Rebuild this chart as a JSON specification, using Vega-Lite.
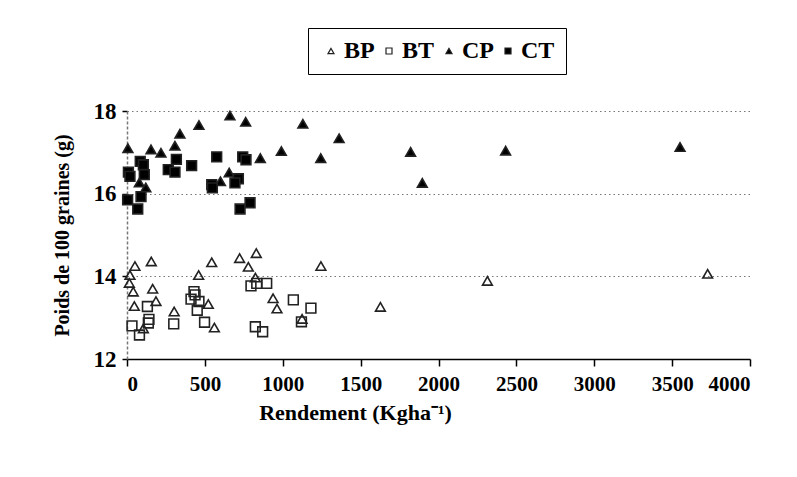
{
  "$schema": "https://vega.github.io/schema/vega-lite/v6.json",
  "width": 623,
  "height": 248,
  "autosize": "none",
  "padding": {"left": 127, "top": 111, "right": 47, "bottom": 118},
  "background": "white",
  "config": {
    "view": {"stroke": null},
    "font": "Liberation Serif",
    "legend": {
      "orient": "none", "direction": "horizontal",
      "legendX": 181, "legendY": -83,
      "strokeColor": "black", "fillColor": "white", "padding": 11,
      "labelFont": "Liberation Serif", "labelFontWeight": "bold", "labelFontSize": 24, "labelColor": "black",
      "symbolSize": 36, "symbolStrokeWidth": 1.2, "labelOffset": 1, "columnPadding": 2, "gridAlign": "none"
    }
  },
  "data": {
    "values": [
      {"s": "BP", "x": 51, "y": 14.25},
      {"s": "BP", "x": 156, "y": 14.36},
      {"s": "BP", "x": 19, "y": 14.03},
      {"s": "BP", "x": 15, "y": 13.84},
      {"s": "BP", "x": 40, "y": 13.63},
      {"s": "BP", "x": 165, "y": 13.7},
      {"s": "BP", "x": 186, "y": 13.4},
      {"s": "BP", "x": 47, "y": 13.28},
      {"s": "BP", "x": 105, "y": 12.74},
      {"s": "BP", "x": 303, "y": 13.15},
      {"s": "BP", "x": 460, "y": 14.03},
      {"s": "BP", "x": 544, "y": 14.34},
      {"s": "BP", "x": 522, "y": 13.33},
      {"s": "BP", "x": 561, "y": 12.76},
      {"s": "BP", "x": 723, "y": 14.44},
      {"s": "BP", "x": 779, "y": 14.23},
      {"s": "BP", "x": 830, "y": 14.56},
      {"s": "BP", "x": 824, "y": 13.97},
      {"s": "BP", "x": 938, "y": 13.47},
      {"s": "BP", "x": 963, "y": 13.22},
      {"s": "BP", "x": 1124, "y": 12.97},
      {"s": "BP", "x": 1245, "y": 14.25},
      {"s": "BP", "x": 1627, "y": 13.26},
      {"s": "BP", "x": 2314, "y": 13.89},
      {"s": "BP", "x": 3728, "y": 14.06},
      {"s": "BT", "x": 32, "y": 12.8},
      {"s": "BT", "x": 80, "y": 12.58},
      {"s": "BT", "x": 131, "y": 13.27},
      {"s": "BT", "x": 141, "y": 12.96},
      {"s": "BT", "x": 137, "y": 12.87},
      {"s": "BT", "x": 300, "y": 12.85},
      {"s": "BT", "x": 430, "y": 13.63},
      {"s": "BT", "x": 437, "y": 13.55},
      {"s": "BT", "x": 411, "y": 13.45},
      {"s": "BT", "x": 462, "y": 13.39},
      {"s": "BT", "x": 451, "y": 13.18},
      {"s": "BT", "x": 498, "y": 12.89},
      {"s": "BT", "x": 796, "y": 13.77},
      {"s": "BT", "x": 833, "y": 13.83},
      {"s": "BT", "x": 897, "y": 13.83},
      {"s": "BT", "x": 824, "y": 12.78},
      {"s": "BT", "x": 871, "y": 12.66},
      {"s": "BT", "x": 1068, "y": 13.43},
      {"s": "BT", "x": 1181, "y": 13.23},
      {"s": "BT", "x": 1120, "y": 12.9},
      {"s": "CP", "x": 6, "y": 17.1},
      {"s": "CP", "x": 154, "y": 17.07},
      {"s": "CP", "x": 218, "y": 16.99},
      {"s": "CP", "x": 308, "y": 17.16},
      {"s": "CP", "x": 340, "y": 17.45},
      {"s": "CP", "x": 462, "y": 17.66},
      {"s": "CP", "x": 661, "y": 17.89},
      {"s": "CP", "x": 762, "y": 17.74},
      {"s": "CP", "x": 856, "y": 16.86},
      {"s": "CP", "x": 991, "y": 17.03},
      {"s": "CP", "x": 1129, "y": 17.69},
      {"s": "CP", "x": 1244, "y": 16.86},
      {"s": "CP", "x": 1362, "y": 17.34},
      {"s": "CP", "x": 656, "y": 16.51},
      {"s": "CP", "x": 600, "y": 16.3},
      {"s": "CP", "x": 79, "y": 16.27},
      {"s": "CP", "x": 121, "y": 16.15},
      {"s": "CP", "x": 1821, "y": 17.01},
      {"s": "CP", "x": 1896, "y": 16.26},
      {"s": "CP", "x": 2431, "y": 17.04},
      {"s": "CP", "x": 3551, "y": 17.13},
      {"s": "CT", "x": 9, "y": 16.52},
      {"s": "CT", "x": 19, "y": 16.42},
      {"s": "CT", "x": 85, "y": 16.78},
      {"s": "CT", "x": 105, "y": 16.7},
      {"s": "CT", "x": 111, "y": 16.46},
      {"s": "CT", "x": 317, "y": 16.83},
      {"s": "CT", "x": 265, "y": 16.58},
      {"s": "CT", "x": 308, "y": 16.52},
      {"s": "CT", "x": 415, "y": 16.68},
      {"s": "CT", "x": 576, "y": 16.89},
      {"s": "CT", "x": 743, "y": 16.89},
      {"s": "CT", "x": 764, "y": 16.82},
      {"s": "CT", "x": 544, "y": 16.22},
      {"s": "CT", "x": 548, "y": 16.14},
      {"s": "CT", "x": 715, "y": 16.36},
      {"s": "CT", "x": 693, "y": 16.26},
      {"s": "CT", "x": 4, "y": 15.85},
      {"s": "CT", "x": 90, "y": 15.93},
      {"s": "CT", "x": 69, "y": 15.63},
      {"s": "CT", "x": 726, "y": 15.63},
      {"s": "CT", "x": 790, "y": 15.78}
    ]
  },
  "mark": {"type": "point", "strokeWidth": 1.6, "opacity": 1, "size": 95, "stroke": "#222"},
  "encoding": {
    "x": {
      "field": "x", "type": "quantitative",
      "scale": {"domain": [0, 4000], "nice": false, "zero": false},
      "axis": {
        "values": [0, 500, 1000, 1500, 2000, 2500, 3000, 3500, 4000],
        "format": "d",
        "title": "Rendement (Kgha⁻¹)",
        "grid": false,
        "domainColor": "black", "domainWidth": 1.5,
        "tickColor": "black", "tickWidth": 1.5, "tickSize": 7,
        "labelFont": "Liberation Serif", "labelFontWeight": "bold", "labelFontSize": 21, "labelColor": "black",
        "labelPadding": 7,
        "titleFont": "Liberation Serif", "titleFontWeight": "bold", "titleFontSize": 22, "titleColor": "black",
        "titleX": 228, "titleY": 53, "titleAlign": "center", "titleBaseline": "middle"
      }
    },
    "y": {
      "field": "y", "type": "quantitative",
      "scale": {"domain": [12, 18], "nice": false, "zero": false},
      "axis": {
        "values": [12, 14, 16, 18],
        "title": "Poids de 100 graines (g)",
        "grid": true, "gridColor": "#777", "gridDash": [1.5, 3], "gridWidth": 1.2,
        "domainColor": "#777", "domainDash": [3, 2], "domainWidth": 1.5,
        "tickColor": "black", "tickWidth": 1.5, "tickSize": 5,
        "labelFont": "Liberation Serif", "labelFontWeight": "bold", "labelFontSize": 23, "labelColor": "black",
        "labelPadding": 6,
        "titleFont": "Liberation Serif", "titleFontWeight": "bold", "titleFontSize": 20, "titleColor": "black",
        "titleX": -65, "titleY": 124, "titleAngle": -90, "titleAlign": "center", "titleBaseline": "middle"
      }
    },
    "shape": {
      "field": "s", "type": "nominal",
      "scale": {"domain": ["BP", "BT", "CP", "CT"], "range": ["triangle-up", "square", "triangle-up", "square"]},
      "legend": {"title": null}
    },
    "fill": {
      "field": "s", "type": "nominal",
      "scale": {"domain": ["BP", "BT", "CP", "CT"], "range": ["transparent", "transparent", "black", "black"]},
      "legend": {"title": null}
    }
  }
}
